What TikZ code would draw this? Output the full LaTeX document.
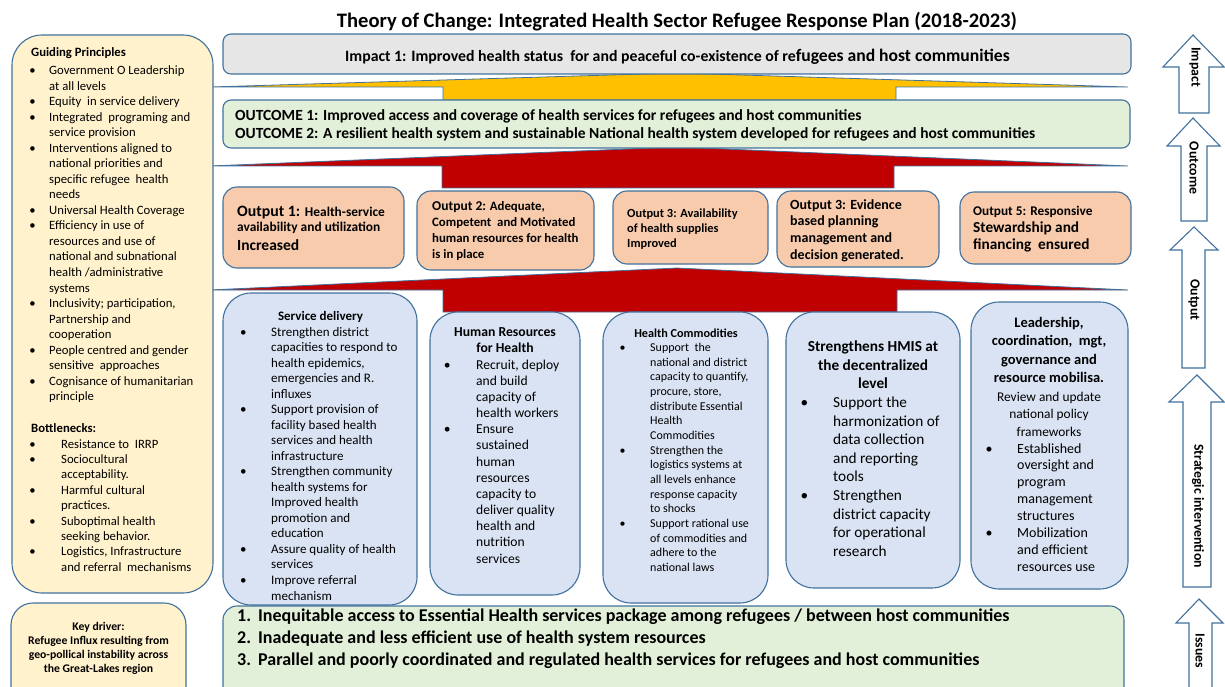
\documentclass[tikz,border=0pt]{standalone}
\usepackage{fontspec}
\setmainfont{Carlito}
\definecolor{bord}{HTML}{41719C}
\definecolor{impfill}{HTML}{E7E6E6}
\definecolor{grnfill}{HTML}{E2F0D9}
\definecolor{outfill}{HTML}{F8CBAD}
\definecolor{sifill}{HTML}{DAE3F3}
\definecolor{gpfill}{HTML}{FFF2CC}
\definecolor{yel}{HTML}{FFC000}
\definecolor{redd}{HTML}{C00000}
\newcommand\fs[2]{\fontsize{#1}{#2}\selectfont}
\newcommand\bu[1]{\llap{\textbullet\hspace{#1pt}}}
\begin{document}
\begin{tikzpicture}[x=1pt,y=-1pt,
  bx/.style={draw=bord, line width=1.1pt, rounded corners=#1},
  flow/.style={draw=bord, line width=0.8pt},
  updarrow/.style={draw=bord, line width=1.1pt, fill=white},
  txt/.style={inner sep=0pt, anchor=base west},
  ctxt/.style={inner sep=0pt, anchor=base},
  lab/.style={inner sep=0pt, anchor=center, rotate=-90, font=\fs{13.8}{16}\bfseries}]
\useasboundingbox (0,0) rectangle (1225,687);

% title
\node[ctxt] (title) at (677,28) {\fs{20.6}{24}\bfseries Theory of Change: Integrated Health Sector Refugee Response Plan (2018-2023)};

% wedge arrows
\path[flow, fill=yel] (210,87) -- (677,73) -- (1128,87) -- (896,87) -- (896,100) -- (443,100) -- (443,87) -- cycle;
\path[flow, fill=redd] (210,166) -- (677,147) -- (1128,166) -- (894,166) -- (894,188) -- (442,188) -- (442,166) -- cycle;
\path[flow, fill=redd] (210,290) -- (677,268) -- (1128,290) -- (897,290) -- (897,312) -- (443,312) -- (443,290) -- cycle;

% left panel
\path[bx=30, fill=gpfill] (12,35) rectangle (213,593);
\node[txt] (gph) at (31,57) {\fs{12.7}{15.5}\bfseries Guiding Principles};
\node[txt] (gpl) at (49,74.5) {\fs{12.7}{15.54}\begin{tabular}[t]{@{}l@{}}
\bu{13.5}Government O Leadership\\
at all levels\\
\bu{13.5}Equity\ \ in service delivery\\
\bu{13.5}Integrated\ \ programing and\\
service provision\\
\bu{13.5}Interventions aligned to\\
national priorities and\\
specific refugee\ \ health\\
needs\\
\bu{13.5}Universal Health Coverage\\
\bu{13.5}Efficiency in use of\\
resources and use of\\
national and subnational\\
health /administrative\\
systems\\
\bu{13.5}Inclusivity; participation,\\
Partnership and\\
cooperation\\
\bu{13.5}People centred and gender\\
sensitive\ \ approaches\\
\bu{13.5}Cognisance of humanitarian\\
principle
\end{tabular}};
\node[txt] (bnh) at (31,432) {\fs{12.7}{15.5}\bfseries Bottlenecks:};
\node[txt] (bnl) at (61,448) {\fs{12.7}{15.4}\begin{tabular}[t]{@{}l@{}}
\bu{25.5}Resistance to\ \ IRRP\\
\bu{25.5}Sociocultural\\
acceptability.\\
\bu{25.5}Harmful cultural\\
practices.\\
\bu{25.5}Suboptimal health\\
seeking behavior.\\
\bu{25.5}Logistics, Infrastructure\\
and referral\ \ mechanisms
\end{tabular}};

\path[bx=22, fill=gpfill] (11,603) rectangle (186,710);
\node[ctxt] (kd) at (98.5,630) {\fs{11.7}{14}\bfseries\begin{tabular}[t]{@{}c@{}}
Key driver:\\
Refugee Influx resulting from\\
geo-pollical instability across\\
the Great-Lakes region
\end{tabular}};

% impact
\path[bx=8, fill=impfill] (223,34) rectangle (1131,74);
\node[txt] (imp) at (345,62) {\bfseries\fs{15.8}{18}Impact 1: Improved health status\ \ for and peaceful co-existence of re\fs{17.6}{20}fugees and host communities};

% outcome
\path[bx=8, fill=grnfill] (223,100) rectangle (1130,148);
\node[txt] (outc) at (235,121) {\fs{15.5}{18}\bfseries\begin{tabular}[t]{@{}l@{}}
OUTCOME 1: Improved access and coverage of health services for refugees and host communities\\
OUTCOME 2: A resilient health system and sustainable National health system developed for refugees and host communities
\end{tabular}};

% outputs
\path[bx=14, fill=outfill] (223,187) rectangle (404,268);
\path[bx=14, fill=outfill] (417,191) rectangle (594,270);
\path[bx=14, fill=outfill] (613,191) rectangle (768,264);
\path[bx=14, fill=outfill] (777,191) rectangle (939,267);
\path[bx=14, fill=outfill] (960,192) rectangle (1131,264);
\node[txt] (o1) at (237,216) {\fs{13.4}{15}\bfseries\begin{tabular}[t]{@{}l@{}}
{\fs{15.8}{15}Output 1: }Health-service\\
availability and utilization\\[4pt]
{\fs{15.5}{15}Increased}
\end{tabular}};
\node[txt] (o2) at (432,211) {\fs{12.8}{15.7}\bfseries\begin{tabular}[t]{@{}l@{}}
{\fs{13.5}{15.7}Output 2:} Adequate,\\
Competent\ \ and Motivated\\
human resources for health\\
is in place
\end{tabular}};
\node[txt] (o3) at (627,217) {\fs{12.4}{15}\bfseries\begin{tabular}[t]{@{}l@{}}
Output 3: Availability\\
of health supplies\\
Improved
\end{tabular}};
\node[txt] (o4) at (790,209) {\fs{14}{16.7}\bfseries\begin{tabular}[t]{@{}l@{}}
Output 3: Evidence\\
based planning\\
management and\\
decision generated.
\end{tabular}};
\node[txt] (o5) at (973,215) {\fs{15.3}{17}\bfseries\begin{tabular}[t]{@{}l@{}}
{\fs{13.3}{17}Output 5: Responsive}\\
Stewardship and\\
financing\ \ ensured
\end{tabular}};

% strategic interventions
\path[bx=28, fill=sifill] (223,293) rectangle (417,605);
\path[bx=28, fill=sifill] (430,312) rectangle (580,595);
\path[bx=28, fill=sifill] (603,312) rectangle (768,603);
\path[bx=28, fill=sifill] (786,312) rectangle (960,588);
\path[bx=28, fill=sifill] (971,302) rectangle (1128,589);

\node[ctxt] (sdh) at (320.5,320) {\fs{13}{15.5}\bfseries Service delivery};
\node[txt] (sdl) at (271,336) {\fs{13}{15.53}\begin{tabular}[t]{@{}l@{}}
\bu{24.5}Strengthen district\\
capacities to respond to\\
health epidemics,\\
emergencies and R.\\
influxes\\
\bu{24.5}Support provision of\\
facility based health\\
services and health\\
infrastructure\\
\bu{24.5}Strengthen community\\
health systems for\\
Improved health\\
promotion and\\
education\\
\bu{24.5}Assure quality of health\\
services\\
\bu{24.5}Improve referral\\
mechanism
\end{tabular}};

\node[ctxt] (hrh) at (505,336) {\fs{13.7}{16.2}\bfseries\begin{tabular}[t]{@{}c@{}}
Human Resources\\
for Health
\end{tabular}};
\node[txt] (hrl) at (476,369) {\fs{13.6}{16.17}\begin{tabular}[t]{@{}l@{}}
\bu{25.5}Recruit, deploy\\
and build\\
capacity of\\
health workers\\
\bu{25.5}Ensure\\
sustained\\
human\\
resources\\
capacity to\\
deliver quality\\
health and\\
nutrition\\
services
\end{tabular}};

\node[ctxt] (hch) at (686,337) {\fs{12.2}{14.7}\bfseries Health Commodities};
\node[txt] (hcl) at (650,351.5) {\fs{12}{14.67}\begin{tabular}[t]{@{}l@{}}
\bu{24.5}Support\ \ the\\
national and district\\
capacity to quantify,\\
procure, store,\\
distribute Essential\\
Health\\
Commodities\\
\bu{24.5}Strengthen the\\
logistics systems at\\
all levels enhance\\
response capacity\\
to shocks\\
\bu{24.5}Support rational use\\
of commodities and\\
adhere to the\\
national laws
\end{tabular}};

\node[ctxt] (hmh) at (873,351.5) {\fs{15.3}{18.6}\bfseries\begin{tabular}[t]{@{}c@{}}
Strengthens HMIS at\\
the decentralized\\
level
\end{tabular}};
\node[txt] (hml) at (833,407.5) {\fs{15.3}{18.6}\begin{tabular}[t]{@{}l@{}}
\bu{25}Support the\\
harmonization of\\
data collection\\
and reporting\\
tools\\
\bu{25}Strengthen\\
district capacity\\
for operational\\
research
\end{tabular}};

\node[ctxt] (ldh) at (1049,327.5) {\fs{14.5}{18.3}\bfseries\begin{tabular}[t]{@{}c@{}}
Leadership,\\
coordination,\ \ mgt,\\
governance and\\
resource mobilisa.
\end{tabular}};
\node[ctxt] (ldr) at (1049,401) {\fs{13.4}{17.5}\begin{tabular}[t]{@{}c@{}}
Review and update\\
national policy\\
frameworks
\end{tabular}};
\node[txt] (ldl) at (1017,453) {\fs{14}{16.86}\begin{tabular}[t]{@{}l@{}}
\bu{24.5}Established\\
oversight and\\
program\\
management\\
structures\\
\bu{24.5}Mobilization\\
and efficient\\
resources use
\end{tabular}};

% issues
\path[bx=14, fill=grnfill] (223,606) rectangle (1124,710);
\node[txt] (iss) at (237,621.5) {\fs{18}{22}\bfseries\begin{tabular}[t]{@{}l@{}}
\makebox[21pt][l]{1.}Inequitable access to Essential Health services package among refugees / between host communities\\
\makebox[21pt][l]{2.}Inadequate and less efficient use of health system resources\\
\makebox[21pt][l]{3.}Parallel and poorly coordinated and regulated health services for refugees and host communities
\end{tabular}};

% right-hand level arrows
\path[updarrow] (1193,35) -- (1224,67) -- (1209,67) -- (1209,113) -- (1179,113) -- (1179,67) -- (1163,67) -- cycle;
\path[updarrow] (1193,118) -- (1220,146) -- (1207,146) -- (1207,221) -- (1181,221) -- (1181,146) -- (1167,146) -- cycle;
\path[updarrow] (1194,227) -- (1218,250) -- (1205,250) -- (1205,368) -- (1182,368) -- (1182,250) -- (1170,250) -- cycle;
\path[updarrow] (1197,375) -- (1224,402) -- (1211,402) -- (1211,587) -- (1183,587) -- (1183,402) -- (1169,402) -- cycle;
\path[updarrow] (1199,599) -- (1223,623) -- (1212,623) -- (1212,700) -- (1189,700) -- (1189,623) -- (1176,623) -- cycle;
\node[lab] (limp) at (1195,67) {Impact};
\node[lab] (lout) at (1194,168) {Outcome};
\node[lab] (lop) at (1194,300) {Output};
\node[lab] (lsi) at (1198,506) {Strategic intervention};
\node[lab] (liss) at (1200,651) {Issues};
\end{tikzpicture}
\end{document}
